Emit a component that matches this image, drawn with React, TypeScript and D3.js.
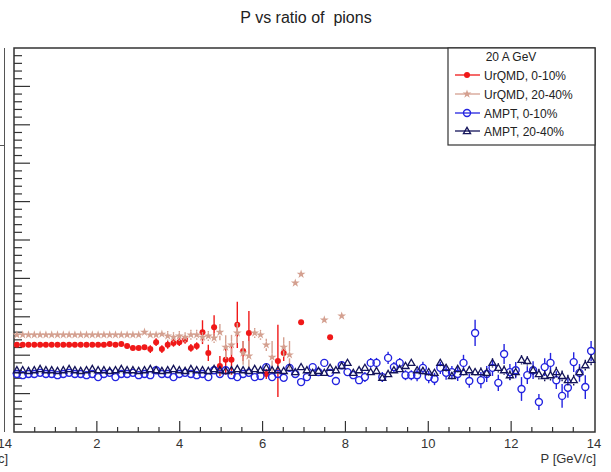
import React, { useEffect, useRef } from 'react';
import * as d3 from 'd3';

// histogram: 100 bins of 0.14 GeV/c between 0 and 14
const binWidth = 0.14;
const xTicks = [2, 4, 6, 8, 10, 12, 14];

// UrQMD, 0-10%
const urqmdCentral = [
  0.227, 0.227, 0.227, 0.227, 0.227, 0.227, 0.227, 0.227, 0.227, 0.227,
  0.227, 0.227, 0.227, 0.227, 0.227, 0.227, 0.229, 0.227, 0.229, 0.224,
  0.219, 0.219, 0.221, 0.216, 0.234, 0.216, 0.227, 0.232, 0.234, 0.240,
  0.219, 0.224, 0.260, 0.206, 0.273, 0.172, 0.188, 0.188, 0.279, 0.211,
  0.258, null, null, 0.151, null, 0.185, 0.206, null, null, 0.286,
  null, null, null, null, 0.247,
];
const urqmdCentralErr = [
  0.003, 0.003, 0.003, 0.003, 0.003, 0.003, 0.003, 0.003, 0.003, 0.003,
  0.003, 0.003, 0.003, 0.003, 0.003, 0.003, 0.005, 0.005, 0.005, 0.005,
  0.005, 0.005, 0.005, 0.010, 0.010, 0.010, 0.010, 0.010, 0.010, 0.010,
  0.010, 0.010, 0.031, 0.021, 0.031, 0.026, 0.039, 0.039, 0.060, 0.026,
  0.057, 0, 0, 0.013, 0, 0.094, 0.021, 0, 0, 0.005,
  0, 0, 0, 0, 0.005,
];

// UrQMD, 20-40%
const urqmdPeripheral = [
  0.253, 0.253, 0.253, 0.253, 0.253, 0.253, 0.253, 0.253, 0.253, 0.253,
  0.253, 0.253, 0.253, 0.253, 0.253, 0.253, 0.253, 0.253, 0.253, 0.253,
  0.253, 0.253, 0.260, 0.253, 0.253, 0.255, 0.250, 0.247, 0.250, 0.247,
  0.253, 0.253, 0.247, 0.250, 0.245, 0.260, 0.221, 0.227, 0.258, 0.206,
  0.198, 0.258, 0.253, 0.227, 0.195, null, 0.221, 0.201, 0.388, 0.411,
  null, null, null, 0.292, null, null, 0.302,
];
const urqmdPeripheralErr = [
  0.003, 0.003, 0.003, 0.003, 0.003, 0.003, 0.003, 0.003, 0.003, 0.003,
  0.003, 0.003, 0.003, 0.003, 0.003, 0.003, 0.003, 0.003, 0.003, 0.003,
  0.003, 0.003, 0.005, 0.005, 0.005, 0.005, 0.013, 0.013, 0.013, 0.013,
  0.013, 0.013, 0.013, 0.013, 0.013, 0.021, 0.031, 0.026, 0.026, 0.031,
  0.039, 0.013, 0.013, 0.016, 0.042, 0, 0.026, 0.036, 0.005, 0.005,
  0, 0, 0, 0.005, 0, 0, 0.005,
];

// AMPT, 0-10%
const amptCentral = [
  0.151, 0.148, 0.151, 0.151, 0.154, 0.151, 0.151, 0.148, 0.151, 0.154,
  0.151, 0.151, 0.148, 0.151, 0.143, 0.151, 0.154, 0.143, 0.151, 0.151,
  0.154, 0.148, 0.151, 0.148, 0.161, 0.151, 0.151, 0.143, 0.151, 0.154,
  0.151, 0.148, 0.151, 0.143, 0.161, 0.151, 0.161, 0.148, 0.143, 0.151,
  0.154, 0.143, 0.146, 0.169, 0.143, 0.151, 0.141, 0.167, 0.151, 0.130,
  0.143, 0.169, 0.156, 0.180, 0.154, 0.133, 0.174, 0.156, 0.148, 0.135,
  0.143, 0.180, 0.180, 0.143, 0.193, 0.169, 0.180, 0.148, 0.148, 0.148,
  0.167, 0.143, 0.138, 0.167, 0.154, 0.156, 0.151, 0.180, 0.133, 0.258,
  0.135, 0.151, 0.167, 0.128, 0.203, 0.156, 0.161, 0.112, 0.148, 0.161,
  0.078, 0.169, 0.180, 0.135, 0.094, 0.115, 0.182, 0.154, 0.117, 0.211,
];
const amptCentralErr = [
  0.004, 0.004, 0.004, 0.004, 0.004, 0.004, 0.004, 0.004, 0.004, 0.004,
  0.004, 0.004, 0.004, 0.004, 0.004, 0.004, 0.004, 0.004, 0.004, 0.004,
  0.005, 0.005, 0.005, 0.005, 0.005, 0.005, 0.005, 0.005, 0.005, 0.005,
  0.005, 0.005, 0.005, 0.005, 0.005, 0.005, 0.005, 0.005, 0.005, 0.005,
  0.008, 0.008, 0.008, 0.008, 0.008, 0.008, 0.008, 0.008, 0.008, 0.010,
  0.010, 0.010, 0.010, 0.010, 0.010, 0.010, 0.010, 0.010, 0.010, 0.010,
  0.013, 0.013, 0.013, 0.013, 0.016, 0.013, 0.013, 0.013, 0.013, 0.016,
  0.016, 0.016, 0.016, 0.016, 0.018, 0.016, 0.018, 0.021, 0.018, 0.034,
  0.021, 0.021, 0.021, 0.021, 0.026, 0.021, 0.021, 0.031, 0.023, 0.023,
  0.021, 0.023, 0.026, 0.023, 0.031, 0.026, 0.026, 0.023, 0.031, 0.026,
];

// AMPT, 20-40%
const amptPeripheral = [
  0.161, 0.161, 0.159, 0.161, 0.164, 0.161, 0.161, 0.159, 0.161, 0.164,
  0.161, 0.159, 0.161, 0.164, 0.161, 0.161, 0.159, 0.161, 0.164, 0.161,
  0.161, 0.159, 0.161, 0.164, 0.161, 0.159, 0.161, 0.164, 0.161, 0.159,
  0.164, 0.161, 0.161, 0.159, 0.164, 0.161, 0.159, 0.161, 0.164, 0.161,
  0.159, 0.164, 0.161, 0.167, 0.161, 0.161, 0.159, 0.167, 0.156, 0.169,
  0.161, 0.154, 0.159, 0.154, 0.167, 0.161, 0.172, 0.180, 0.154, 0.161,
  0.167, 0.156, 0.159, 0.141, 0.151, 0.161, 0.164, 0.172, 0.180, 0.161,
  0.159, 0.156, 0.154, 0.180, 0.167, 0.146, 0.164, 0.156, 0.161, 0.156,
  0.156, 0.154, 0.180, 0.167, 0.161, 0.148, 0.156, 0.188, 0.185, 0.161,
  0.151, 0.146, 0.148, 0.156, 0.146, 0.135, 0.135, 0.156, 0.174, 0.188,
];
const amptPeripheralErr = [
  0.003, 0.003, 0.003, 0.003, 0.003, 0.003, 0.003, 0.003, 0.003, 0.003,
  0.003, 0.003, 0.003, 0.003, 0.003, 0.003, 0.003, 0.003, 0.003, 0.003,
  0.003, 0.003, 0.003, 0.003, 0.003, 0.003, 0.003, 0.003, 0.003, 0.003,
  0.004, 0.004, 0.004, 0.004, 0.004, 0.004, 0.004, 0.004, 0.004, 0.004,
  0.005, 0.005, 0.005, 0.005, 0.005, 0.005, 0.005, 0.005, 0.005, 0.005,
  0.006, 0.006, 0.006, 0.006, 0.006, 0.006, 0.006, 0.006, 0.006, 0.006,
  0.008, 0.008, 0.008, 0.008, 0.008, 0.008, 0.008, 0.008, 0.008, 0.008,
  0.010, 0.010, 0.010, 0.010, 0.010, 0.010, 0.010, 0.010, 0.010, 0.010,
  0.012, 0.012, 0.012, 0.012, 0.012, 0.012, 0.012, 0.012, 0.012, 0.012,
  0.014, 0.014, 0.014, 0.014, 0.014, 0.014, 0.014, 0.014, 0.014, 0.014,
];

const series = [
  { label: 'UrQMD, 0-10%', values: urqmdCentral, errors: urqmdCentralErr, color: '#f01818', marker: 'dot' },
  { label: 'UrQMD, 20-40%', values: urqmdPeripheral, errors: urqmdPeripheralErr, color: '#d4a090', marker: 'star' },
  { label: 'AMPT, 0-10%', values: amptCentral, errors: amptCentralErr, color: '#2424e0', marker: 'circle' },
  { label: 'AMPT, 20-40%', values: amptPeripheral, errors: amptPeripheralErr, color: '#14145a', marker: 'triangle' },
];

const FONT = '"Liberation Sans", Arial, sans-serif';

const drawMarker = (g, marker, color, cx, cy) => {
  if (marker === 'dot') {
    g.append('circle').attr('cx', cx).attr('cy', cy).attr('r', 3).attr('fill', color);
  } else if (marker === 'circle') {
    g.append('circle').attr('cx', cx).attr('cy', cy).attr('r', 3.5)
      .attr('fill', 'none').attr('stroke', color).attr('stroke-width', 1.4);
  } else if (marker === 'star') {
    g.append('path').attr('d', d3.symbol(d3.symbolStar, 24)())
      .attr('transform', `translate(${cx},${cy})`).attr('fill', color);
  } else {
    g.append('path').attr('d', d3.symbol(d3.symbolTriangle, 22)())
      .attr('transform', `translate(${cx},${cy + 0.5})`)
      .attr('fill', 'none').attr('stroke', color).attr('stroke-width', 1.3);
  }
};

const App = () => {
  const svgRef = useRef(null);

  useEffect(() => {
    const svg = d3.select(svgRef.current);
    svg.selectAll('*').remove();

    const left = 14, right = 594, top = 48, bottom = 432;
    const x = d3.scaleLinear().domain([0, 14]).range([left, right]);
    const y = d3.scaleLinear().domain([0, 1]).range([bottom, top]);

    // neighbouring pad's edge and legend corner
    svg.append('line').attr('x1', 4.5).attr('x2', 4.5).attr('y1', top).attr('y2', bottom)
      .attr('stroke', '#555').attr('stroke-width', 1);
    svg.append('line').attr('x1', 0).attr('x2', 4.5).attr('y1', 145.5).attr('y2', 145.5)
      .attr('stroke', '#555').attr('stroke-width', 1);
    svg.append('text').attr('x', 12).attr('y', 448).attr('text-anchor', 'end')
      .attr('font-family', FONT).attr('font-size', 13).attr('fill', '#333').text('14');
    svg.append('text').attr('x', 8).attr('y', 463).attr('text-anchor', 'end')
      .attr('font-family', FONT).attr('font-size', 13).attr('fill', '#333').text('c]');

    // title
    svg.append('text').attr('x', 306).attr('y', 23).attr('text-anchor', 'middle')
      .attr('font-family', FONT).attr('font-size', 16).attr('fill', '#222')
      .style('white-space', 'pre')
      .text('P vs ratio of  pions');

    // frame
    svg.append('rect').attr('x', left).attr('y', top).attr('width', right - left + 1).attr('height', bottom - top)
      .attr('fill', 'none').attr('stroke', '#333').attr('stroke-width', 1.5);

    // x ticks
    const xMinor = d3.range(0.5, 14, 0.5);
    svg.append('g').selectAll('line').data(xMinor).enter().append('line')
      .attr('x1', d => x(d)).attr('x2', d => x(d))
      .attr('y1', bottom).attr('y2', d => bottom - (d % 2 === 0 ? 11 : 5))
      .attr('stroke', '#333').attr('stroke-width', 1.2);
    svg.append('g').selectAll('text').data(xTicks).enter().append('text')
      .attr('x', d => x(d)).attr('y', 448).attr('text-anchor', 'middle')
      .attr('font-family', FONT).attr('font-size', 13).attr('fill', '#333').text(d => d);
    svg.append('text').attr('x', 596).attr('y', 463).attr('text-anchor', 'end')
      .attr('font-family', FONT).attr('font-size', 13).attr('fill', '#333').text('P [GeV/c]');

    // y ticks
    const yMinor = d3.range(1, 50).map(i => i / 50);
    svg.append('g').selectAll('line').data(yMinor).enter().append('line')
      .attr('x1', left).attr('x2', (d, i) => left + ((i + 1) % 5 === 0 ? 16 : 8))
      .attr('y1', d => y(d)).attr('y2', d => y(d))
      .attr('stroke', '#333').attr('stroke-width', 1.2);

    // data
    const plot = svg.append('g');
    series.forEach(s => {
      const g = plot.append('g');
      s.values.forEach((v, i) => {
        if (v === null) return;
        const cx = x((i + 0.5) * binWidth);
        const cy = y(v);
        const e = s.errors[i];
        const gap = s.marker === 'dot' ? 0 : 3.5;
        const y1 = y(v + e), y2 = y(v - e);
        if (cy - gap > y1) {
          g.append('line').attr('x1', cx).attr('x2', cx).attr('y1', y1).attr('y2', cy - gap)
            .attr('stroke', s.color).attr('stroke-width', 1.4);
        }
        if (y2 > cy + gap) {
          g.append('line').attr('x1', cx).attr('x2', cx).attr('y1', cy + gap).attr('y2', y2)
            .attr('stroke', s.color).attr('stroke-width', 1.4);
        }
        drawMarker(g, s.marker, s.color, cx, cy);
      });
    });

    // legend
    const lg = svg.append('g');
    lg.append('rect').attr('x', 448).attr('y', top).attr('width', right - 448 + 1).attr('height', 97)
      .attr('fill', 'white').attr('stroke', '#333').attr('stroke-width', 1.2);
    lg.append('text').attr('x', 511).attr('y', 61).attr('text-anchor', 'middle')
      .attr('font-family', FONT).attr('font-size', 12).attr('fill', '#222').text('20 A GeV');
    const rowY = [75, 94, 113, 131];
    series.forEach((s, i) => {
      const ry = rowY[i];
      lg.append('line').attr('x1', 455).attr('x2', 480).attr('y1', ry).attr('y2', ry)
        .attr('stroke', s.color).attr('stroke-width', 1.3);
      drawMarker(lg, s.marker, s.color, 467, ry);
      lg.append('text').attr('x', 484).attr('y', ry + 4.5)
        .attr('font-family', FONT).attr('font-size', 12).attr('fill', '#222').text(s.label);
    });
  }, []);

  return (
    <svg ref={svgRef} width={611} height={472}
      style={{ position: 'absolute', left: 0, top: 0, background: 'white' }} />
  );
};

export default App;
